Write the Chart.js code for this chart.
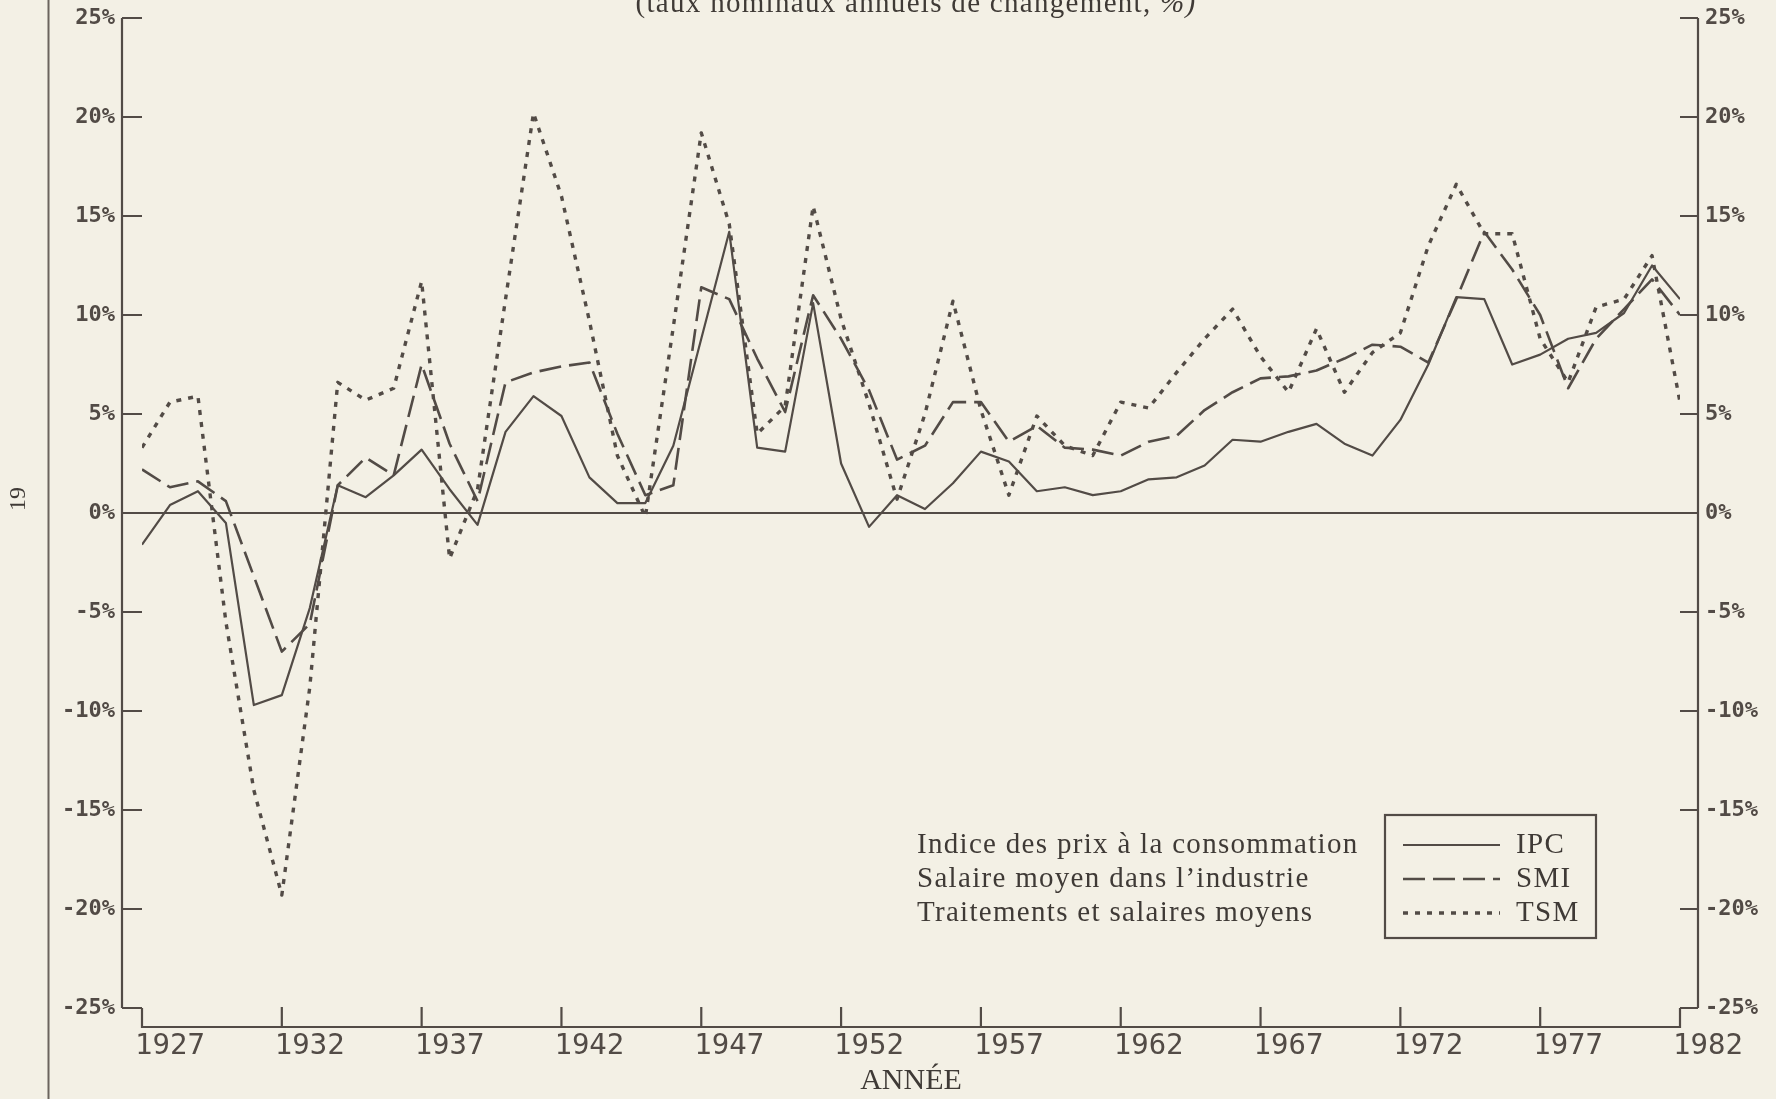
<!DOCTYPE html>
<html lang="fr">
<head>
<meta charset="utf-8">
<title>IPC, SMI et TSM, 1927-1982</title>
<script src="https://cdn.jsdelivr.net/npm/chart.js@4.4.1/dist/chart.umd.min.js"></script>
<style>
  html, body { margin: 0; padding: 0; background: #f3f0e5; }
  #wrap { width: 1776px; height: 1099px; }
</style>
</head>
<body>
<div id="wrap"><canvas id="chart" width="1776" height="1099"></canvas></div>
<script>
// annual nominal rates of change, %
const years = [
  1927, 1928, 1929, 1930, 1931, 1932, 1933, 1934, 1935, 1936,
  1937, 1938, 1939, 1940, 1941, 1942, 1943, 1944, 1945, 1946,
  1947, 1948, 1949, 1950, 1951, 1952, 1953, 1954, 1955, 1956,
  1957, 1958, 1959, 1960, 1961, 1962, 1963, 1964, 1965, 1966,
  1967, 1968, 1969, 1970, 1971, 1972, 1973, 1974, 1975, 1976,
  1977, 1978, 1979, 1980, 1981, 1982
];
const ipc = [
  -1.6, 0.4, 1.1, -0.5, -9.7, -9.2, -4.8, 1.4, 0.8, 1.9,
  3.2, 1.2, -0.6, 4.1, 5.9, 4.9, 1.8, 0.5, 0.5, 3.4,
  8.8, 14.2, 3.3, 3.1, 10.6, 2.5, -0.7, 0.9, 0.2, 1.5,
  3.1, 2.6, 1.1, 1.3, 0.9, 1.1, 1.7, 1.8, 2.4, 3.7,
  3.6, 4.1, 4.5, 3.5, 2.9, 4.7, 7.5, 10.9, 10.8, 7.5,
  8.0, 8.8, 9.1, 10.1, 12.5, 10.8
];
const smi = [
  2.2, 1.3, 1.6, 0.6, -3.2, -7.0, -5.6, 1.4, 2.8, 1.9,
  7.5, 3.5, 0.6, 6.6, 7.1, 7.4, 7.6, 4.0, 0.9, 1.4,
  11.4, 10.8, 7.8, 5.1, 11.0, 8.8, 6.2, 2.7, 3.4, 5.6,
  5.6, 3.6, 4.4, 3.3, 3.2, 2.9, 3.6, 3.9, 5.2, 6.1,
  6.8, 6.9, 7.2, 7.8, 8.5, 8.4, 7.6, 10.8, 14.2, 12.3,
  10.0, 6.3, 8.8, 10.3, 11.8, 10.0
];
const tsm = [
  3.3, 5.6, 5.9, -5.5, -14.0, -19.3, -8.8, 6.6, 5.7, 6.3,
  11.7, -2.3, 1.2, 10.8, 20.2, 16.0, 9.7, 2.9, -0.2, 9.4,
  19.2, 14.6, 4.0, 5.4, 15.5, 9.8, 5.5, 0.7, 5.0, 10.7,
  5.2, 0.9, 4.9, 3.4, 2.9, 5.6, 5.3, 7.1, 8.8, 10.3,
  7.9, 6.1, 9.3, 6.1, 8.1, 9.1, 13.5, 16.6, 14.1, 14.1,
  8.8, 6.6, 10.4, 10.8, 13.0, 5.6
];

const seriesCodes = ['IPC', 'SMI', 'TSM'];
const seriesNames = [
  'Indice des prix à la consommation',
  'Salaire moyen dans l\u2019industrie',
  'Traitements et salaires moyens'
];
const subtitle = '(taux nominaux annuels de changement, ';
const subtitleEnd = '%)';
const xTitle = 'ANNÉE';
const pageNumber = '19';

const ink = '#524b46';
const paperColor = '#f3f0e5';
const serif = '"Liberation Serif", "Times New Roman", serif';
const mono = '"DejaVu Sans Mono", monospace';

function points(values) {
    return years.map((yr, i) => ({ x: yr, y: values[i] }));
}

// axes are drawn by hand: ticks point inward and the corners step down to the year axis
const paper = {
    id: 'paper',
    beforeDraw(chart) {
        const ctx = chart.ctx;
        ctx.save();
        ctx.fillStyle = paperColor;
        ctx.fillRect(0, 0, chart.width, chart.height);
        ctx.restore();
    },
    beforeDatasetsDraw(chart) {
        const { ctx, chartArea: a, scales: { x, y } } = chart;
        const leftX = a.left - 20;
        const rightX = a.right + 18;
        const axisY = a.bottom + 19;
        const top = y.getPixelForValue(y.max);
        const bottom = y.getPixelForValue(y.min);

        ctx.save();
        ctx.strokeStyle = ink;
        ctx.lineWidth = 2.2;
        ctx.beginPath();
        ctx.moveTo(leftX, top);
        ctx.lineTo(leftX, bottom);
        ctx.moveTo(rightX, top);
        ctx.lineTo(rightX, bottom);
        y.ticks.forEach(t => {
            const py = y.getPixelForValue(t.value);
            ctx.moveTo(leftX, py);
            ctx.lineTo(a.left, py);
            ctx.moveTo(a.right, py);
            ctx.lineTo(rightX, py);
        });
        ctx.moveTo(a.left, bottom);
        ctx.lineTo(a.left, axisY);
        ctx.lineTo(a.right, axisY);
        ctx.lineTo(a.right, bottom);
        x.ticks.forEach((t, i) => {
            if (i === 0 || i === x.ticks.length - 1) return;
            const px = x.getPixelForValue(t.value);
            ctx.moveTo(px, axisY);
            ctx.lineTo(px, axisY - 20);
        });
        // zero line
        const zero = y.getPixelForValue(0);
        ctx.moveTo(leftX, zero);
        ctx.lineTo(rightX, zero);
        ctx.stroke();

        // page rule on the left
        ctx.lineWidth = 2;
        ctx.strokeStyle = '#6b645e';
        ctx.beginPath();
        ctx.moveTo(48.5, 0);
        ctx.lineTo(48.5, chart.height);
        ctx.stroke();
        ctx.restore();
    },
    afterDraw(chart) {
        const { ctx, chartArea: a } = chart;
        ctx.save();
        ctx.fillStyle = '#3f3a36';
        ctx.letterSpacing = '1.3px';

        // subtitle, cut by the top edge of the scan
        ctx.font = '29px ' + serif;
        const w1 = ctx.measureText(subtitle).width;
        ctx.font = 'italic 29px ' + serif;
        const w2 = ctx.measureText(subtitleEnd).width;
        const sx = (a.left + a.right) / 2 + 5 - (w1 + w2) / 2;
        ctx.textBaseline = 'alphabetic';
        ctx.textAlign = 'left';
        ctx.font = '29px ' + serif;
        ctx.fillText(subtitle, sx, 12);
        ctx.font = 'italic 29px ' + serif;
        ctx.fillText(subtitleEnd, sx + w1, 12);

        // legend
        const box = { x: 1385, y: 815, w: 211, h: 123 };
        ctx.strokeStyle = ink;
        ctx.lineWidth = 2.2;
        ctx.strokeRect(box.x, box.y, box.w, box.h);
        ctx.font = '29px ' + serif;
        ctx.textBaseline = 'middle';
        chart.data.datasets.forEach((ds, i) => {
            const cy = box.y + 30 + i * 34;
            ctx.setLineDash(ds.borderDash);
            ctx.lineWidth = ds.borderWidth;
            ctx.beginPath();
            ctx.moveTo(box.x + 18, cy);
            ctx.lineTo(box.x + 115, cy);
            ctx.stroke();
            ctx.setLineDash([]);
            ctx.fillText(seriesCodes[i], box.x + 131, cy);
            ctx.fillText(seriesNames[i], box.x - 468, cy);
        });

        // page number, printed sideways
        ctx.letterSpacing = '0px';
        ctx.font = '24px ' + serif;
        ctx.translate(19, 499);
        ctx.rotate(-Math.PI / 2);
        ctx.textAlign = 'center';
        ctx.fillText(pageNumber, 0, 0);
        ctx.restore();
    }
};

const yAxis = (position, padding, width) => ({
    type: 'linear',
    position: position,
    min: -25,
    max: 25,
    grid: { display: false, drawTicks: false },
    border: { display: false },
    ticks: {
        stepSize: 5,
        padding: padding,
        color: ink,
        font: { family: mono, size: 22, weight: 'bold' },
        callback: v => v + '%'
    },
    afterFit: scale => {
        scale.width = width;
        scale.paddingTop = 0;
        scale.paddingBottom = 0;
    }
});

new Chart(document.getElementById('chart'), {
    type: 'line',
    data: {
        datasets: [
            {
                label: seriesCodes[0],
                data: points(ipc),
                borderColor: ink,
                borderWidth: 2.2,
                borderDash: []
            },
            {
                label: seriesCodes[1],
                data: points(smi),
                borderColor: ink,
                borderWidth: 2.6,
                borderDash: [22, 8]
            },
            {
                label: seriesCodes[2],
                data: points(tsm),
                borderColor: ink,
                borderWidth: 3.4,
                borderDash: [5, 7]
            }
        ]
    },
    options: {
        responsive: false,
        animation: false,
        devicePixelRatio: 1,
        layout: { padding: { top: 18, left: 0, right: 0, bottom: 0 } },
        elements: {
            point: { radius: 0 },
            line: { tension: 0, borderJoinStyle: 'round' }
        },
        plugins: {
            legend: { display: false },
            tooltip: { enabled: false }
        },
        scales: {
            x: {
                type: 'linear',
                min: 1927,
                max: 1982,
                grid: { display: false, drawTicks: false },
                border: { display: false },
                ticks: {
                    stepSize: 5,
                    autoSkip: false,
                    maxRotation: 0,
                    align: 'start',
                    labelOffset: -7,
                    padding: 21,
                    color: ink,
                    font: { family: mono, size: 29 },
                    callback: v => String(v)
                },
                title: {
                    display: true,
                    text: xTitle,
                    color: '#3f3a36',
                    font: { family: serif, size: 30 },
                    padding: { top: 0, bottom: 0 }
                },
                afterFit: scale => { scale.height = 91; }
            },
            y: yAxis('left', 27, 142),
            y2: yAxis('right', 25, 96)
        }
    },
    plugins: [paper]
});
</script>
</body>
</html>
